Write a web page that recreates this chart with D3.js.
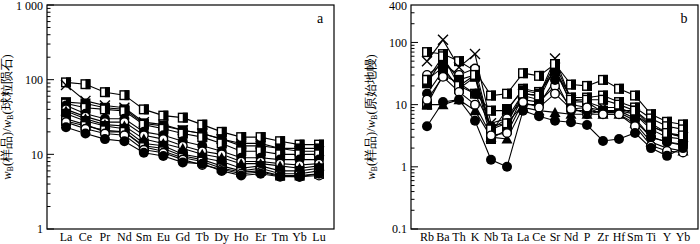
<!DOCTYPE html>
<html><head><meta charset="utf-8">
<script src="https://cdn.jsdelivr.net/npm/d3@7"></script>
<style>body{margin:0;background:#fff}svg{display:block}</style></head>
<body><svg id="c" width="700" height="244"></svg>
<script>
// ---------- Panel a: REE (chondrite-normalised) ----------
const reeCategories = ["La","Ce","Pr","Nd","Sm","Eu","Gd","Tb","Dy","Ho","Er","Tm","Yb","Lu"];
const reeA1  = [92,87,68,62,40,33,31,25,20,17,17,15,13.5,13.5];
const reeA2  = [85,52,45,42,27,25,21,19,16,14,14,12,11,11];
const reeA3  = [50,48,42,40,26,24,21,19,16,13,13,12,12,12];
const reeA4  = [48,42,40,38,25,22,19,17,14,11,11,10,10,10];
const reeA5  = [45,35,30,30,20,18,15,13,11,9,9,8.5,8.5,8.5];
const reeA6  = [40,32,27,27,18,16,13,11,10,8,8,7.5,7.2,7.5];
const reeA7  = [38,30,25,24,16,14,12,10,9,7.5,7.5,7,6.5,7];
const reeA8  = [35,28,24,22,14,13,10,9,8,6.5,7,6,6,6.5];
const reeA9  = [30,25,20,20,13,12,9.5,8.5,7,6,6.5,5.5,5.5,6];
const reeA10 = [28,24,21,20,12.5,11,9,8,6.5,5.8,6,5.2,5.2,5.5];
const reeA11 = [27,22,19,18,11.5,10.5,8.5,7.2,6.3,5.5,5.8,5.1,5,5.2];
const reeA12 = [23,19,16,15,10.5,9.5,7.8,7.5,6,5.2,5.5,5,5,5.5];
const reeSeries  = [reeA1,reeA2,reeA3,reeA4,reeA5,reeA6,reeA7,reeA8,reeA9,reeA10,reeA11,reeA12];
const reeMarkers = ["half","cross","sq","half","circ","ocirc","tri","sq","circ","half","ocirc","circ"];
const reeTicks = [1,10,100,1000];
const reeTickLabels = ["1","10","100","1 000"];

// ---------- Panel b: trace elements (primitive-mantle-normalised) ----------
const teCategories = ["Rb","Ba","Th","K","Nb","Ta","La","Ce","Sr","Nd","P","Zr","Hf","Sm","Ti","Y","Yb"];
const teB1  = [70,65,50,35,14,15,32,29,45,21,20,25,18,14,7,5.3,4.8];
const teB2  = [50,110,40,65,5,6,15,14,55,12,11,9,9,7,4.5,3.5,3];
const teB3  = [10,30,22,15,8,8,18,16,35,13,13,14,11,9,6,4.5,4];
const teB4  = [30,45,30,38,4,6,12,11,20,9,7,8,8,6,3,2.5,2.2];
const teB5  = [25,40,18,28,2.8,4,14,12,40,10,9,8,8,7,4,3,2.8];
const teB6  = [15,35,20,15,4.5,5,10,10,25,8,8,7.5,7.5,5.5,3,2.5,2.3];
const teB7  = [22,55,25,30,3.5,8.5,17,15,35,11,11,7.5,8,8,5,3.5,3];
const teB8  = [25,60,20,30,4,5,15,14,45,12,12,12,10,8,4.5,3.5,3.2];
const teB9  = [10,10,12,8,3,2.8,9,8,7.5,7,7,7,7,5,2.5,2,1.8];
const teB10 = [12,28,16,10,3.2,3.5,11,9,15,8.5,9,7,7,4.5,2.2,1.8,1.7];
const teB11 = [4.5,11,12,5.5,1.3,1.0,8,6.5,5.5,5.2,4.7,2.6,2.8,3.5,2,1.5,2];
const teSeries  = [teB1,teB2,teB3,teB4,teB5,teB6,teB7,teB8,teB9,teB10,teB11];
const teMarkers = ["half","cross","half","ocirc","sq","circ","sq","half","tri","ocirc","circ"];
const teTicks = [0.1,1,10,100,400];
const teTickLabels = ["0.1","1","10","100","400"];

const svg = d3.select("#c");
const FONT = "'Liberation Serif','Times New Roman',serif";

function drawMarker(g, type, x, y) {
  const s = 5;
  if (type === "half") {
    g.append("rect").attr("x", x - s + 0.7).attr("y", y - s + 0.7).attr("width", 2*s - 1.4).attr("height", 2*s - 1.4)
      .attr("fill", "#fff").attr("stroke", "#000").attr("stroke-width", 1.4);
    g.append("rect").attr("x", x).attr("y", y - s).attr("width", s).attr("height", 2*s).attr("fill", "#000");
  } else if (type === "sq") {
    g.append("rect").attr("x", x - s).attr("y", y - s).attr("width", 2*s).attr("height", 2*s).attr("fill", "#000");
  } else if (type === "osq") {
    g.append("rect").attr("x", x - s + 0.7).attr("y", y - s + 0.7).attr("width", 2*s - 1.4).attr("height", 2*s - 1.4)
      .attr("fill", "#fff").attr("stroke", "#000").attr("stroke-width", 1.4);
  } else if (type === "circ") {
    g.append("circle").attr("cx", x).attr("cy", y).attr("r", s).attr("fill", "#000");
  } else if (type === "ocirc") {
    g.append("circle").attr("cx", x).attr("cy", y).attr("r", s - 0.7).attr("fill", "#fff").attr("stroke", "#000").attr("stroke-width", 1.4);
  } else if (type === "tri") {
    g.append("path").attr("d", `M${x},${y - s - 0.5}L${x + s + 0.5},${y + s - 0.5}L${x - s - 0.5},${y + s - 0.5}Z`).attr("fill", "#000");
  } else if (type === "cross") {
    g.append("path").attr("d", `M${x - s},${y - s}L${x + s},${y + s}M${x - s},${y + s}L${x + s},${y - s}`)
      .attr("stroke", "#000").attr("stroke-width", 1.4).attr("fill", "none");
  }
}

function panel(opt) {
  const { left, right, top, bottom, cats, series, markers, domain, ticks, tickLabels, title, letter, catPad } = opt;
  const g = svg.append("g");
  const x = d3.scalePoint().domain(cats).range([left + catPad[0], right - catPad[1]]);
  const y = d3.scaleLog().domain(domain).range([bottom, top]);

  const lo = Math.floor(Math.log10(domain[0])), hi = Math.ceil(Math.log10(domain[1]));
  const minor = [];
  for (let e = lo; e < hi; e++) for (let k = 2; k <= 9; k++) {
    const v = k * Math.pow(10, e);
    if (v > domain[0] && v < domain[1]) minor.push(v);
  }
  g.selectAll(".mn").data(minor).enter().append("line")
    .attr("x1", left).attr("x2", left + 3.5).attr("y1", d => y(d)).attr("y2", d => y(d))
    .attr("stroke", "#000").attr("stroke-width", 1);
  g.selectAll(".mj").data(ticks.filter(t => Number.isInteger(Math.log10(t)))).enter().append("line")
    .attr("x1", left).attr("x2", left + 7).attr("y1", d => y(d)).attr("y2", d => y(d))
    .attr("stroke", "#000").attr("stroke-width", 1);
  g.selectAll(".tl").data(ticks).enter().append("text")
    .attr("x", left - 4).attr("y", d => Math.max(y(d), 6)).attr("dy", "0.35em").attr("text-anchor", "end")
    .attr("font-family", FONT).attr("font-size", 12).text((d, i) => tickLabels[i]);

  g.selectAll(".cl").data(cats).enter().append("text")
    .attr("x", d => x(d)).attr("y", bottom + 12).attr("text-anchor", "middle")
    .attr("font-family", FONT).attr("font-size", 12).text(d => d);

  const line = d3.line().x((d, i) => x(cats[i])).y(d => y(d));
  series.forEach(s => {
    g.append("path").attr("d", line(s)).attr("fill", "none").attr("stroke", "#000").attr("stroke-width", 1.1);
  });
  series.forEach((s, si) => {
    s.forEach((v, i) => drawMarker(g, markers[si], x(cats[i]), y(v)));
  });

  g.append("rect").attr("x", left).attr("y", top).attr("width", right - left).attr("height", bottom - top)
    .attr("fill", "none").attr("stroke", "#000").attr("stroke-width", 1.2);

  g.append("text").attr("x", right - 14).attr("y", top + 18).attr("text-anchor", "middle")
    .attr("font-family", FONT).attr("font-size", 14).text(letter);

  const t = g.append("text").attr("transform", `translate(${opt.titleX},${(top + bottom) / 2}) rotate(-90)`)
    .attr("text-anchor", "middle").attr("font-family", FONT).attr("font-size", 12.5);
  t.append("tspan").attr("font-style", "italic").text("w");
  t.append("tspan").attr("font-size", 8).attr("dy", 2).text("B");
  t.append("tspan").attr("dy", -2).text("(样品)/");
  t.append("tspan").attr("font-style", "italic").text("w");
  t.append("tspan").attr("font-size", 8).attr("dy", 2).text("B");
  t.append("tspan").attr("dy", -2).text(title);
}

panel({ left: 47, right: 334, top: 5, bottom: 229, cats: reeCategories, series: reeSeries, markers: reeMarkers,
  domain: [1, 1000], ticks: reeTicks, tickLabels: reeTickLabels, title: "(球粒陨石)", letter: "a", titleX: 11, catPad: [19, 15] });
panel({ left: 411, right: 698, top: 5, bottom: 229, cats: teCategories, series: teSeries, markers: teMarkers,
  domain: [0.1, 400], ticks: teTicks, tickLabels: teTickLabels, title: "(原始地幔)", letter: "b", titleX: 375, catPad: [16, 15] });
</script>
</body></html>
